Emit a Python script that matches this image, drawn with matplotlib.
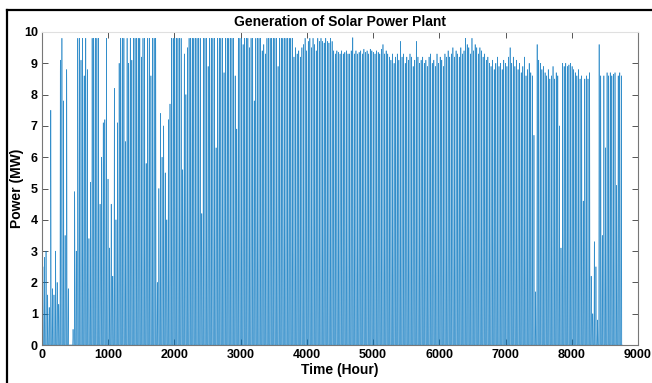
import matplotlib
matplotlib.use("Agg")
import matplotlib.pyplot as plt
from matplotlib.lines import Line2D
import numpy as np

# daily peak output of the plant (MW), one value per day of the year
daily_peak = [
    2.5, 2.8, 3.0, 1.6, 1.2, 7.5, 1.8, 1.6, 3.0, 2.0, 1.3, 9.1, 9.8, 7.8, 3.5, 8.8, 1.8, 0.0, 0.0, 0.5,
    4.9, 3.0, 9.8, 9.8, 9.1, 9.8, 8.6, 9.8, 8.8, 3.4, 5.2, 9.8, 9.8, 9.8, 9.8, 9.8, 4.5, 6.0, 7.1, 7.2,
    9.8, 5.3, 3.1, 4.5, 2.2, 8.2, 4.0, 7.1, 9.0, 9.8, 9.8, 9.8, 6.5, 9.8, 9.0, 9.8, 9.1, 9.8, 9.8, 9.8,
    9.8, 9.8, 9.2, 9.8, 9.8, 5.8, 9.8, 9.8, 8.6, 9.8, 9.8, 9.8, 2.0, 5.0, 7.4, 6.0, 7.0, 5.5, 4.0, 7.2,
    7.7, 9.8, 9.8, 9.8, 9.8, 9.8, 9.8, 9.8, 5.6, 9.3, 8.0, 9.5, 9.8, 9.8, 9.8, 9.8, 9.8, 9.8, 9.8, 9.8,
    4.2, 9.8, 9.8, 9.8, 8.9, 9.8, 9.8, 9.8, 9.8, 6.3, 9.8, 9.8, 9.8, 9.8, 8.7, 9.8, 9.8, 9.8, 9.8, 9.8,
    9.8, 8.6, 6.9, 9.8, 9.8, 9.8, 9.6, 9.8, 9.8, 9.8, 9.5, 9.8, 9.8, 7.8, 9.8, 9.8, 9.8, 9.8, 9.4, 9.6,
    9.3, 9.8, 9.8, 9.8, 9.8, 9.8, 9.8, 9.8, 8.9, 9.8, 9.8, 9.8, 9.8, 9.8, 9.8, 9.8, 9.8, 9.8, 9.2, 9.5,
    9.3, 9.4, 9.2, 9.5, 9.6, 9.8, 9.4, 9.7, 9.8, 9.5, 9.8, 9.6, 9.4, 9.8, 9.7, 9.8, 9.7, 9.65, 9.8, 9.7,
    9.65, 9.8, 9.7, 9.4, 9.3, 9.4, 9.35, 9.3, 9.4, 9.3, 9.35, 9.4, 9.3, 9.3, 9.4, 9.82, 9.3, 9.4, 9.3, 9.35,
    9.4, 9.3, 9.45, 9.35, 9.4, 9.3, 9.45, 9.4, 9.35, 9.3, 9.4, 9.35, 9.3, 9.45, 9.6, 9.3, 9.4, 9.3, 9.2, 9.1,
    9.3, 9.0, 9.2, 9.3, 9.1, 9.7, 9.2, 9.3, 9.0, 9.2, 9.1, 9.3, 9.2, 8.9, 9.1, 9.7, 9.2, 9.0, 9.1, 9.2,
    9.0, 9.1, 8.9, 9.2, 9.3, 9.0, 9.1, 8.9, 9.3, 9.0, 9.2, 9.1, 8.9, 9.3, 9.2, 9.4, 9.2, 9.3, 9.5, 9.2,
    9.4, 9.3, 9.2, 9.5, 9.3, 9.4, 9.8, 9.6, 9.5, 9.3, 9.8, 9.4, 9.6, 9.5, 9.3, 9.5, 9.4, 9.2, 9.3, 9.1,
    9.2, 9.0, 8.9, 9.1, 8.8, 9.0, 9.2, 8.9, 9.0, 8.8, 9.1, 9.0, 8.9, 9.2, 9.5, 9.0, 9.2, 8.9, 9.1, 8.8,
    9.0, 8.7, 8.9, 9.2, 8.6, 8.8, 9.0, 8.7, 8.6, 6.7, 1.7, 9.6, 9.1, 9.0, 8.8, 8.9, 8.7, 8.6, 8.8, 8.5,
    8.6, 8.9, 8.5, 8.7, 8.6, 7.0, 3.1, 9.0, 8.9, 9.0, 8.9, 8.95, 9.0, 8.9, 8.8, 8.7, 8.6, 8.8, 8.5, 8.6,
    4.6, 8.5, 8.6, 8.5, 8.7, 2.2, 1.0, 3.3, 2.5, 0.8, 9.6, 8.6, 3.5, 8.6, 6.3, 8.7, 8.6, 8.7, 8.6, 8.65,
    8.7, 5.1, 8.6, 8.7, 8.6,
]

# fraction of the daily peak produced in each hour of the day
hour_shape = [0, 0, 0, 0, 0, 0, 0, 0.1, 0.35, 0.65, 0.85, 0.96,
              1.0, 0.96, 0.85, 0.65, 0.35, 0.1, 0, 0, 0, 0, 0, 0]

power = np.outer(daily_peak, hour_shape).ravel()
hours = np.arange(1, power.size + 1)

plt.rcParams['font.family'] = ['Liberation Sans', 'DejaVu Sans']

fig = plt.figure(figsize=(6.52, 3.83), dpi=100)
ax = fig.add_axes([42/652, 1 - 345/383, 596/652, 313/383])

ax.plot(hours, power, color='#0072BD', lw=0.45, alpha=0.8)

ax.set_xlim(0, 9000)
ax.set_ylim(0, 10)
ax.set_xticks(np.arange(0, 9001, 1000))
ax.set_yticks(np.arange(0, 11, 1))
ax.tick_params(direction='in', length=4, width=0.7, color='#555555',
               top=True, right=True, labelsize=9, pad=3)
for lbl in ax.get_xticklabels() + ax.get_yticklabels():
    lbl.set_fontweight('bold')
for side in ['left', 'bottom', 'right']:
    ax.spines[side].set_color('#777777')
    ax.spines[side].set_linewidth(0.8)
ax.spines['top'].set_color('#e0e0e0')

ax.set_title('Generation of Solar Power Plant', fontsize=10, fontweight='bold', pad=4)
ax.set_xlabel('Time (Hour)', fontsize=10, fontweight='bold', labelpad=1)
ax.set_ylabel('Power (MW)', fontsize=10, fontweight='bold', labelpad=0)

# black frame round the figure
fig.add_artist(Line2D([6.5/652, 6.5/652], [0, 1 - 9.5/383], transform=fig.transFigure,
                      color='black', lw=1.6))
fig.add_artist(Line2D([6.5/652, 1], [1 - 9.5/383, 1 - 9.5/383], transform=fig.transFigure,
                      color='black', lw=1.6))

fig.savefig('out.png', dpi=100)
